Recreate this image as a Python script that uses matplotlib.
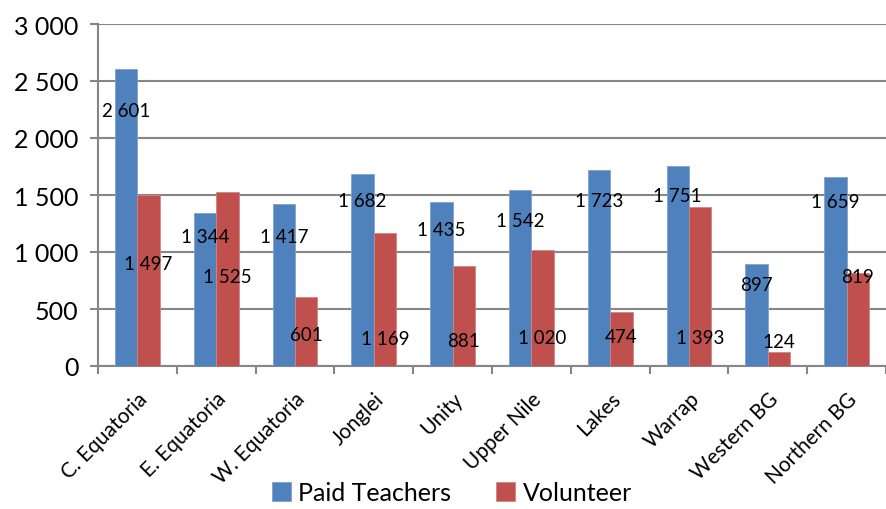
import matplotlib.pyplot as plt
import numpy as np

# ---------------------------------------------------------------------------------
# Data
# ---------------------------------------------------------------------------------
states = ['C. Equatoria', 'E. Equatoria', 'W. Equatoria', 'Jonglei', 'Unity',
          'Upper Nile', 'Lakes', 'Warrap', 'Western BG', 'Northern BG']
paid = [2601, 1344, 1417, 1682, 1435, 1542, 1723, 1751, 897, 1659]
volunteer = [1497, 1525, 601, 1169, 881, 1020, 474, 1393, 124, 819]

# where Excel dropped the data labels (y in data units)
paid_label_y = [2237, 1132, 1132, 1456, 1193, 1272, 1456, 1500, 719, 1447]
vol_label_y = [895, 781, 272, 237, 228, 254, 263, 254, 211, 781]

BLUE = '#4F81BD'
RED = '#C0504D'
GRID = '#868686'

plt.rcParams['font.family'] = ['Lato', 'DejaVu Sans']


def fmt(v):
    return f'{v:,.0f}'.replace(',', ' ')


fig = plt.figure(figsize=(8.86, 5.10), dpi=100)
ax = fig.add_axes([98 / 886, 1 - 367 / 510, 788 / 886, 342 / 510])

x = np.arange(len(states))
w = 0.285
ax.bar(x - w / 2, paid, w, color=BLUE, edgecolor='#7FA3D0', linewidth=0.6,
       label='Paid Teachers', zorder=3)
ax.bar(x + w / 2, volunteer, w, color=RED, edgecolor='#D08583', linewidth=0.6,
       label='Volunteer', zorder=3)

for i in range(len(states)):
    ax.text(x[i] - w / 2, paid_label_y[i], fmt(paid[i]), ha='center', va='center',
            fontsize=13.5, zorder=5)
    ax.text(x[i] + w / 2, vol_label_y[i], fmt(volunteer[i]), ha='center', va='center',
            fontsize=13.5, zorder=5)

ax.set_xlim(-0.5, len(states) - 0.5)
ax.set_ylim(0, 3000)
ax.set_yticks(np.arange(0, 3001, 500))
ax.set_yticklabels([fmt(v) for v in np.arange(0, 3001, 500)], fontsize=18)
ax.yaxis.grid(True, color=GRID, linewidth=1.5, zorder=0)

ax.set_xticks(x)
ax.set_xticklabels(states, rotation=45, ha='right', rotation_mode='anchor', fontsize=15)
ax.tick_params(axis='x', which='major', length=0, pad=16)
ax.set_xticks(np.arange(-0.5, len(states)), minor=True)
ax.tick_params(axis='x', which='minor', length=6, color=GRID, width=1.5)
ax.tick_params(axis='y', length=6, color=GRID, width=1.5, pad=8)

for s in ['top', 'right']:
    ax.spines[s].set_visible(False)
for s in ['left', 'bottom']:
    ax.spines[s].set_color(GRID)
    ax.spines[s].set_linewidth(1.5)

fig.legend(loc='lower center', bbox_to_anchor=(0.51, -0.035), ncol=2, frameon=False,
           fontsize=18, handlelength=0.75, handleheight=0.75, columnspacing=1.8,
           handletextpad=0.3)

fig.savefig('out.png', dpi=100)
